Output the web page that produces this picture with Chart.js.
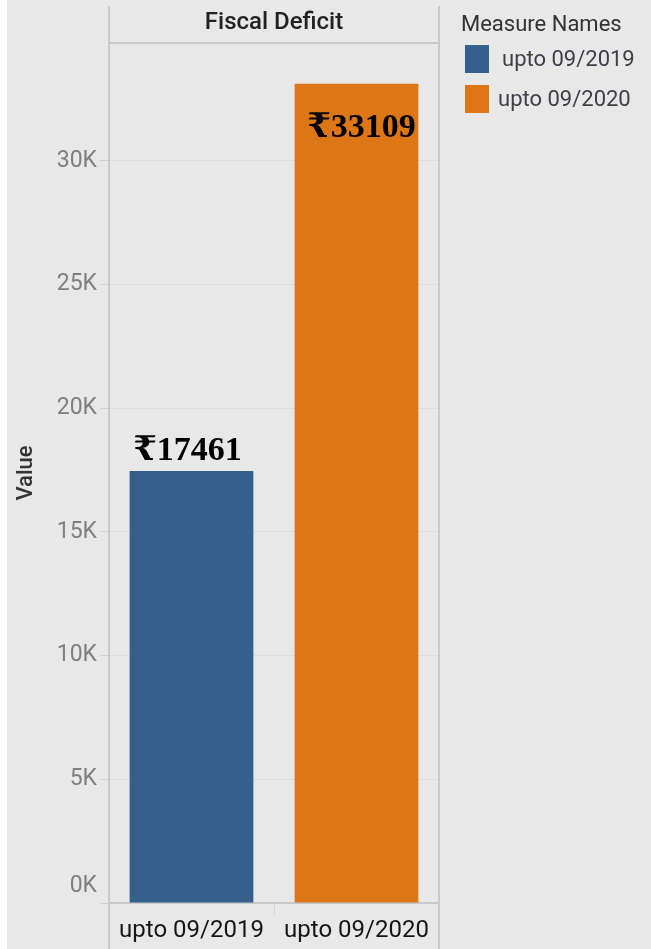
<!DOCTYPE html>
<html><head><meta charset="utf-8">
<script src="https://cdn.jsdelivr.net/npm/chart.js@4"></script>
<style>html,body{margin:0;padding:0;background:#e8e8e8;}canvas{display:block;}</style>
</head><body>
<div style="width:651px;height:949px;position:relative"><canvas id="c" width="651" height="949"></canvas></div>
<script>
const categories = ['upto 09/2019', 'upto 09/2020'];
const values = [17461, 33109];
const valueLabels = ['₹17461', '₹33109'];
const colors = ['#35608d', '#dd7616'];
const yTicks = [0, 5000, 10000, 15000, 20000, 25000, 30000];
const yTickLabels = ['0K', '5K', '10K', '15K', '20K', '25K', '30K'];
const headerTitle = 'Fiscal Deficit';
const legendTitle = 'Measure Names';
const axisTitle = 'Value';
const yMax = 34760;

const BG = '#e8e8e8';
const LINE = '#c9c9c9';

const decor = {
  id: 'decor',
  beforeDraw(chart) {
    const ctx = chart.ctx;
    ctx.save();
    ctx.fillStyle = BG;
    ctx.fillRect(0, 0, chart.width, chart.height);
    ctx.fillStyle = '#ffffff';
    ctx.fillRect(0, 0, 7, chart.height);
    ctx.restore();
  },
  afterDraw(chart) {
    const ctx = chart.ctx;
    const a = chart.chartArea;
    ctx.save();
    ctx.strokeStyle = LINE;
    ctx.lineWidth = 2;
    ctx.beginPath();
    ctx.moveTo(a.left, 6); ctx.lineTo(a.left, chart.height);
    ctx.moveTo(a.right, 6); ctx.lineTo(a.right, chart.height);
    ctx.moveTo(a.left, a.top); ctx.lineTo(a.right, a.top);
    ctx.stroke();
    // header
    ctx.fillStyle = '#222222';
    ctx.font = '500 24px Roboto';
    ctx.textAlign = 'center';
    ctx.textBaseline = 'middle';
    ctx.fillText(headerTitle, (a.left + a.right) / 2, 23);
    // legend
    ctx.textAlign = 'left';
    ctx.font = '22px Roboto';
    ctx.fillStyle = '#333333';
    ctx.fillText(legendTitle, 461, 25);
    const lx = [502, 498];
    categories.forEach((c, i) => {
      const y = 45 + i * 40;
      ctx.fillStyle = colors[i];
      ctx.fillRect(465, y, 24, 28);
      ctx.fillStyle = '#3e3e48';
      ctx.fillText(c, lx[i], y + 15);
    });
    // value labels
    const meta = chart.getDatasetMeta(0);
    ctx.fillStyle = '#000000';
    ctx.font = 'bold 34px "Liberation Serif", "DejaVu Serif", serif';
    ctx.textAlign = 'center';
    ctx.textBaseline = 'alphabetic';
    meta.data.forEach((bar, i) => {
      if (bar.y - 45 < a.top) {
        ctx.fillText(valueLabels[i], bar.x + 5, bar.y + 53);
      } else {
        ctx.fillText(valueLabels[i], bar.x - 4, bar.y - 11);
      }
    });
    ctx.restore();
  }
};

new Chart(document.getElementById('c'), {
  type: 'bar',
  data: {
    labels: categories,
    datasets: [{
      data: values,
      backgroundColor: colors,
      borderWidth: 0,
      categoryPercentage: 1,
      barPercentage: 0.75
    }]
  },
  options: {
    responsive: false,
    animation: false,
    layout: { padding: { left: 7, top: 43, right: 212, bottom: 0 } },
    plugins: { legend: { display: false }, tooltip: { enabled: false } },
    scales: {
      x: {
        afterFit(s) { s.height = 46; },
        grid: { display: true, offset: true, drawOnChartArea: false, tickLength: 12, color: '#d6d6d6', lineWidth: 1 },
        border: { display: true, color: LINE, width: 2 },
        ticks: { color: '#161616', font: { family: 'Roboto', size: 24 }, padding: 2, maxRotation: 0 }
      },
      y: {
        min: 0, max: yMax,
        afterFit(s) { s.width = 102; },
        afterBuildTicks(s) { s.ticks = yTicks.map(v => ({ value: v })); },
        border: { display: false },
        grid: { color: '#dddddd', tickColor: '#cfcfcf', tickLength: 9, lineWidth: 1 },
        ticks: {
          padding: 3,
          color: '#7f7f7f', font: { family: 'Roboto', size: 23, lineHeight: '34px' },
          callback: (v, i) => i === 0 ? [yTickLabels[i], ''] : yTickLabels[i]
        },
        title: { display: true, text: axisTitle, color: '#333333', font: { family: 'Roboto', size: 22, weight: '500' }, padding: { top: 6, bottom: 0 } }
      }
    }
  },
  plugins: [decor]
});
</script>
</body></html>
